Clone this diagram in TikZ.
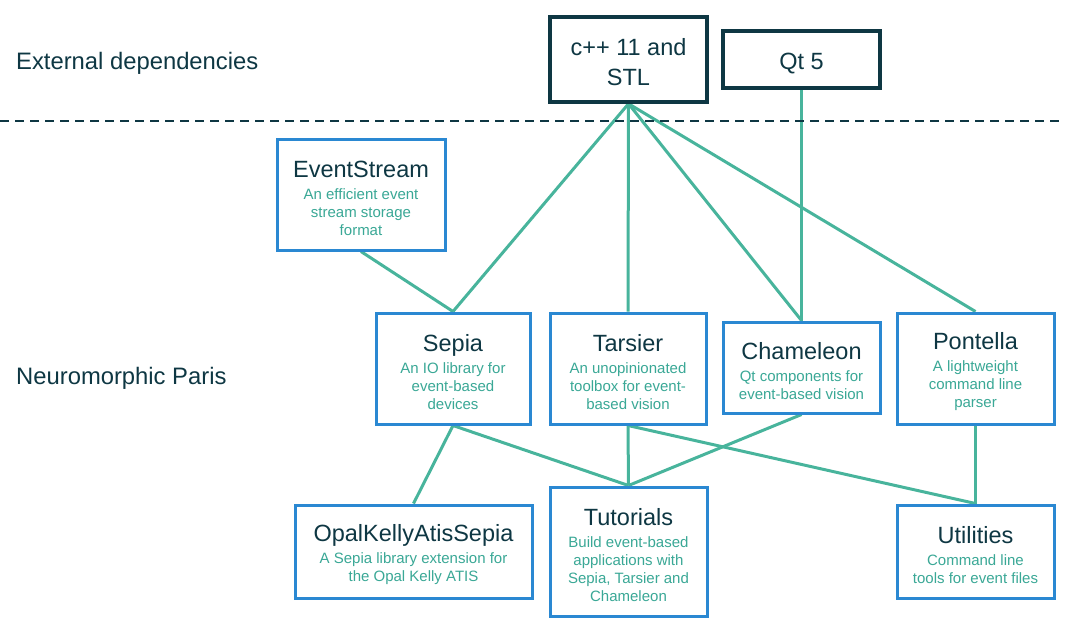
\documentclass[tikz,border=0pt]{standalone}
\usepackage{fontspec}
\setmainfont{Liberation Sans}
\usetikzlibrary{backgrounds}
\definecolor{darkt}{HTML}{0E3743}
\definecolor{blueb}{HTML}{2A88D2}
\definecolor{tealL}{HTML}{48B49C}
\definecolor{subt}{HTML}{3AA896}
\newcommand\topstrut{\rule{0pt}{24pt}}
\newcommand\boxtitle[1]{{\fontsize{23.5}{27}\selectfont\color{darkt}\topstrut#1}}
\begin{document}
\begin{tikzpicture}[x=1pt,y=-1pt,
  pkg/.style={draw=blueb, line width=3pt, fill=white, inner sep=0pt, align=center,
    text=subt, font=\fontsize{15}{18}\selectfont},
  ext/.style={draw=darkt, line width=3.5pt, fill=white, inner sep=0pt, align=center,
    text=darkt, font=\fontsize{23.5}{30}\selectfont},
  lane/.style={anchor=west, text=darkt, font=\fontsize{23.8}{27}\selectfont, inner sep=0pt},
  conn/.style={draw=tealL, line width=3pt}]
\useasboundingbox (0,0) rectangle (1071,633);

\node[lane] (lext) at (16,63) {External dependencies};
\node[lane] (lnp) at (16,378.5) {Neuromorphic Paris};

\coordinate (dl) at (0,121);
\coordinate (dr) at (1062,121);
\draw[darkt, line width=1.8pt, dash pattern=on 9pt off 6pt] (dl) -- (dr);

\node[ext, minimum width=157pt, minimum height=85pt] (cpp) at (628.5,59.5) {\rule{0pt}{22pt}c++ 11 and\\STL};
\node[ext, minimum width=157pt, minimum height=57pt] (qt) at (801.5,59.5) {\rule{0pt}{25pt}Qt 5};

\node[pkg, minimum width=168pt, minimum height=111pt] (es) at (361,194.5)
  {\boxtitle{EventStream}\\[4pt]An efficient event\\stream storage\\format};
\node[pkg, minimum width=154pt, minimum height=111pt] (sepia) at (453,368.5)
  {\boxtitle{Sepia}\\[4pt]An IO library for\\event-based\\devices};
\node[pkg, minimum width=156pt, minimum height=111pt] (tarsier) at (628,368.5)
  {\boxtitle{Tarsier}\\[4pt]An unopinionated\\toolbox for event-\\based vision};
\node[pkg, minimum width=157pt, minimum height=91pt] (cham) at (801.5,367.5)
  {\boxtitle{Chameleon}\\[4pt]Qt components for\\event-based vision};
\node[pkg, minimum width=157pt, minimum height=111pt] (pont) at (975.5,368.5)
  {\boxtitle{Pontella}\\[4pt]A lightweight\\command line\\parser};
\node[pkg, minimum width=237pt, minimum height=93pt] (opal) at (413.5,551.5)
  {\boxtitle{OpalKellyAtisSepia}\\[4pt]A Sepia library extension for\\the Opal Kelly ATIS};
\node[pkg, minimum width=157pt, minimum height=129pt] (tut) at (628.5,551.5)
  {\boxtitle{Tutorials}\\[4pt]Build event-based\\applications with\\Sepia, Tarsier and\\Chameleon};
\node[pkg, minimum width=157pt, minimum height=93pt] (util) at (975.5,551.5)
  {\boxtitle{Utilities}\\[4pt]Command line\\tools for event files};

\begin{scope}[on background layer]
\draw[conn] (cpp.south) -- (sepia.north);
\draw[conn] (cpp.south) -- (tarsier.north);
\draw[conn] (cpp.south) -- (cham.north);
\draw[conn] (cpp.south) -- (pont.north);
\draw[conn] (qt.south) -- (cham.north);
\draw[conn] (es.south) -- (sepia.north);
\draw[conn] (sepia.south) -- (opal.north);
\draw[conn] (sepia.south) -- (tut.north);
\draw[conn] (tarsier.south) -- (tut.north);
\draw[conn] (cham.south) -- (tut.north);
\draw[conn] (tarsier.south) -- (util.north);
\draw[conn] (pont.south) -- (util.north);
\end{scope}
\end{tikzpicture}
\end{document}
